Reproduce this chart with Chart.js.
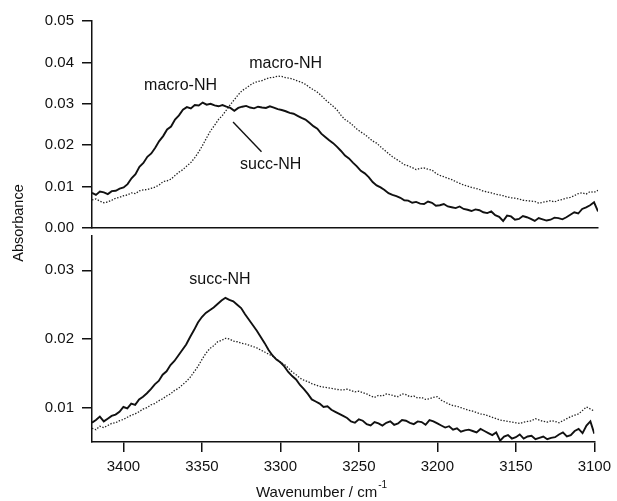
<!DOCTYPE html>
<html><head><meta charset="utf-8">
<script src="https://cdn.jsdelivr.net/npm/chart.js@4.4.1/dist/chart.umd.min.js"></script>
<style>
html,body{margin:0;padding:0;background:#fff;}
#wrap{position:relative;width:617px;height:501px;}
canvas{position:absolute;left:0;top:0;}
</style></head><body>
<div id="wrap"><canvas id="topChart" width="617" height="501"></canvas><canvas id="botChart" width="617" height="501"></canvas></div>
<script>
// ---- data (wavenumber in cm-1, absorbance) ----
const wavenumbers = [
3420,3417.5,3415,3412.5,3410,3407.5,3405,3402.5,3400,3397.5,
3395,3392.5,3390,3387.5,3385,3382.5,3380,3377.5,3375,3372.5,
3370,3367.5,3365,3362.5,3360,3357.5,3355,3352.5,3350,3347.5,
3345,3342.5,3340,3337.5,3335,3332.5,3330,3327.5,3325,3322.5,
3320,3317.5,3315,3312.5,3310,3307.5,3305,3302.5,3300,3297.5,
3295,3292.5,3290,3287.5,3285,3282.5,3280,3277.5,3275,3272.5,
3270,3267.5,3265,3262.5,3260,3257.5,3255,3252.5,3250,3247.5,
3245,3242.5,3240,3237.5,3235,3232.5,3230,3227.5,3225,3222.5,
3220,3217.5,3215,3212.5,3210,3207.5,3205,3202.5,3200,3197.5,
3195,3192.5,3190,3187.5,3185,3182.5,3180,3177.5,3175,3172.5,
3170,3167.5,3165,3162.5,3160,3157.5,3155,3152.5,3150,3147.5,
3145,3142.5,3140,3137.5,3135,3132.5,3130,3127.5,3125,3122.5,
3120,3117.5,3115,3112.5,3110,3107.5,3105,3102.5,3100];

const topSolid = [
0.0085,0.0080,0.0088,0.0086,0.0082,0.0089,0.0090,0.0095,0.0098,0.0106,
0.0120,0.0130,0.0148,0.0157,0.0172,0.0180,0.0194,0.0210,0.0222,0.0238,
0.0245,0.0262,0.0272,0.0286,0.0292,0.0289,0.0297,0.0296,0.0303,0.0298,
0.0300,0.0296,0.0294,0.0297,0.0293,0.0290,0.0283,0.0290,0.0293,0.0295,
0.0291,0.0289,0.0293,0.0291,0.0290,0.0294,0.0291,0.0287,0.0285,0.0282,
0.0278,0.0276,0.0271,0.0266,0.0262,0.0254,0.0246,0.0240,0.0228,0.0220,
0.0212,0.0205,0.0196,0.0186,0.0175,0.0168,0.0158,0.0149,0.0138,0.0132,
0.0123,0.0111,0.0103,0.0098,0.0092,0.0084,0.0080,0.0077,0.0073,0.0067,
0.0066,0.0061,0.0063,0.0059,0.0058,0.0064,0.0061,0.0054,0.0055,0.0058,
0.0052,0.0050,0.0048,0.0052,0.0046,0.0044,0.0041,0.0045,0.0043,0.0038,
0.0036,0.0040,0.0031,0.0027,0.0017,0.0030,0.0028,0.0020,0.0022,0.0029,
0.0026,0.0022,0.0017,0.0024,0.0021,0.0018,0.0020,0.0025,0.0024,0.0021,
0.0026,0.0032,0.0038,0.0035,0.0046,0.0050,0.0055,0.0062,0.0040];

const topDotted = [
0.0068,0.0070,0.0065,0.0061,0.0063,0.0067,0.0072,0.0074,0.0078,0.0080,
0.0085,0.0083,0.0090,0.0092,0.0093,0.0096,0.0099,0.0104,0.0112,0.0114,
0.0118,0.0127,0.0135,0.0141,0.0150,0.0158,0.0170,0.0184,0.0200,0.0218,
0.0235,0.0248,0.0262,0.0272,0.0285,0.0298,0.0310,0.0322,0.0332,0.0338,
0.0345,0.0351,0.0354,0.0356,0.0360,0.0363,0.0364,0.0367,0.0366,0.0363,
0.0362,0.0359,0.0355,0.0352,0.0347,0.0340,0.0334,0.0328,0.0320,0.0310,
0.0302,0.0294,0.0285,0.0272,0.0262,0.0256,0.0248,0.0239,0.0232,0.0226,
0.0218,0.0210,0.0205,0.0196,0.0188,0.0180,0.0172,0.0166,0.0160,0.0153,
0.0150,0.0146,0.0141,0.0144,0.0145,0.0142,0.0140,0.0132,0.0127,0.0124,
0.0120,0.0117,0.0112,0.0108,0.0104,0.0101,0.0098,0.0096,0.0093,0.0089,
0.0087,0.0085,0.0082,0.0080,0.0078,0.0075,0.0073,0.0072,0.0070,0.0067,
0.0066,0.0065,0.0064,0.0060,0.0062,0.0064,0.0066,0.0063,0.0067,0.0069,
0.0072,0.0074,0.0078,0.0083,0.0085,0.0082,0.0088,0.0086,0.0091];

const botSolid = [
0.0078,0.0082,0.0087,0.0080,0.0084,0.0088,0.0090,0.0094,0.0101,0.0099,
0.0106,0.0104,0.0112,0.0116,0.0121,0.0127,0.0134,0.0139,0.0148,0.0153,
0.0162,0.0168,0.0176,0.0184,0.0192,0.0203,0.0213,0.0224,0.0232,0.0238,
0.0242,0.0246,0.0251,0.0256,0.0260,0.0257,0.0255,0.0250,0.0245,0.0236,
0.0228,0.0220,0.0212,0.0203,0.0194,0.0184,0.0176,0.0170,0.0166,0.0160,
0.0152,0.0146,0.0141,0.0133,0.0127,0.0120,0.0112,0.0109,0.0106,0.0101,
0.0102,0.0097,0.0094,0.0091,0.0088,0.0085,0.0080,0.0078,0.0083,0.0081,
0.0076,0.0074,0.0079,0.0077,0.0074,0.0078,0.0080,0.0075,0.0077,0.0082,
0.0081,0.0078,0.0076,0.0080,0.0079,0.0075,0.0082,0.0080,0.0077,0.0074,
0.0071,0.0073,0.0068,0.0070,0.0065,0.0067,0.0068,0.0066,0.0064,0.0069,
0.0066,0.0063,0.0060,0.0064,0.0052,0.0058,0.0060,0.0055,0.0057,0.0061,
0.0055,0.0058,0.0059,0.0054,0.0056,0.0058,0.0054,0.0056,0.0057,0.0061,
0.0064,0.0058,0.0060,0.0066,0.0069,0.0063,0.0074,0.0080,0.0062];

const botDotted = [
0.0070,0.0068,0.0073,0.0071,0.0074,0.0077,0.0078,0.0081,0.0083,0.0086,
0.0089,0.0091,0.0094,0.0098,0.0100,0.0104,0.0106,0.0110,0.0113,0.0117,
0.0120,0.0125,0.0128,0.0133,0.0138,0.0144,0.0152,0.0160,0.0170,0.0179,
0.0186,0.0190,0.0196,0.0198,0.0201,0.0200,0.0197,0.0196,0.0194,0.0193,
0.0191,0.0189,0.0187,0.0184,0.0181,0.0178,0.0175,0.0171,0.0166,0.0163,
0.0158,0.0152,0.0148,0.0143,0.0140,0.0138,0.0135,0.0133,0.0131,0.0130,
0.0129,0.0128,0.0127,0.0126,0.0126,0.0127,0.0125,0.0123,0.0124,0.0122,
0.0120,0.0117,0.0115,0.0118,0.0117,0.0120,0.0119,0.0117,0.0116,0.0120,
0.0119,0.0116,0.0117,0.0114,0.0115,0.0112,0.0113,0.0115,0.0116,0.0111,
0.0108,0.0105,0.0103,0.0102,0.0100,0.0098,0.0096,0.0095,0.0093,0.0091,
0.0090,0.0088,0.0086,0.0084,0.0082,0.0081,0.0080,0.0079,0.0078,0.0077,
0.0079,0.0080,0.0081,0.0084,0.0082,0.0080,0.0079,0.0081,0.0080,0.0078,
0.0081,0.0084,0.0087,0.0089,0.0091,0.0096,0.0101,0.0098,0.0095];

const xTickValues = [3400,3350,3300,3250,3200,3150,3100];
const topYTicks = [0.00,0.01,0.02,0.03,0.04,0.05];
const botYTicks = [0.01,0.02,0.03];

const topLabels = [
  {text:'macro-NH', w:3364, a:0.0345},
  {text:'macro-NH', w:3297.5, a:0.0397},
  {text:'succ-NH', w:3307, a:0.0152}
];
const topLeader = [{w1:3330.8, a1:0.0256, w2:3312.8, a2:0.0184}];
const botLabels = [{text:'succ-NH', w:3338.5, a:0.0287}];

// ---- helpers ----
const FONT = '"Liberation Sans", Arial, Helvetica, sans-serif';
const INK = '#111';
const pts = arr => wavenumbers.map((w,i)=>({x:w, y:arr[i]}));

const annotPlugin = {
  id:'annot',
  afterDatasetsDraw(chart, args, opts){
    const {ctx} = chart; const x = chart.scales.x, y = chart.scales.y;
    ctx.save();
    ctx.fillStyle = INK; ctx.textAlign='center'; ctx.textBaseline='middle';
    ctx.font = '16px ' + FONT;
    (opts.labels||[]).forEach(l=>ctx.fillText(l.text, x.getPixelForValue(l.w), y.getPixelForValue(l.a)));
    ctx.strokeStyle = INK; ctx.lineWidth = 1.4;
    (opts.lines||[]).forEach(l=>{
      ctx.beginPath();
      ctx.moveTo(x.getPixelForValue(l.w1), y.getPixelForValue(l.a1));
      ctx.lineTo(x.getPixelForValue(l.w2), y.getPixelForValue(l.a2));
      ctx.stroke();
    });
    if (opts.xTitle){
      ctx.save();
      ctx.font = '15px ' + FONT;
      ctx.textAlign = 'left'; ctx.textBaseline = 'alphabetic';
      const main = opts.xTitle[0], sup = opts.xTitle[1];
      const wMain = ctx.measureText(main).width;
      ctx.font = '10px ' + FONT;
      const wSup = ctx.measureText(sup).width;
      const x0 = 321 - (wMain + wSup)/2;
      ctx.font = '15px ' + FONT;
      ctx.fillText(main, x0, 497);
      ctx.font = '10px ' + FONT;
      ctx.fillText(sup, x0 + wMain + 1, 488);
      ctx.restore();
    }
    if (opts.yTitle){
      ctx.translate(18.5, 223);
      ctx.rotate(-Math.PI/2);
      ctx.font = '14.5px ' + FONT;
      ctx.fillText(opts.yTitle, 0, 0);
    }
    ctx.restore();
  }
};

function solidDs(arr){ return {data:pts(arr), borderColor:INK, borderWidth:1.9, pointRadius:0, tension:0, fill:false}; }
function dotDs(arr){ return {data:pts(arr), borderColor:'#222', borderWidth:1.3, borderDash:[1.4,1.6], pointRadius:0, tension:0, fill:false}; }

function xScale(showTicks){
  return {
    type:'linear', reverse:true, min:3100, max:3420,
    afterBuildTicks: s => { s.ticks = xTickValues.map(v=>({value:v})); },
    afterFit: s => { s.height = showTicks ? 59 : 0; },
    border:{display:true, color:INK, width:1.5},
    grid:{display:showTicks, drawOnChartArea:false, drawTicks:showTicks, tickLength:10, color:INK, tickColor:INK, lineWidth:1.5},
    ticks:{display:showTicks, color:INK, padding:6, maxRotation:0, font:{family:FONT, size:15}, callback:v=>String(v)},
    title:{display:false}
  };
}
function yScale(min,max,ticks){
  return {
    type:'linear', min, max,
    afterBuildTicks: s => { s.ticks = ticks.map(v=>({value:v})); },
    afterFit: s => { s.width = 92; },
    border:{display:true, color:INK, width:1.5},
    grid:{display:true, drawOnChartArea:false, drawTicks:true, tickLength:10, color:INK, tickColor:INK, lineWidth:1.5},
    ticks:{color:INK, padding:8, font:{family:FONT, size:15}, callback:v=>Number(v).toFixed(2)}
  };
}

new Chart(document.getElementById('topChart'), {
  type:'line',
  data:{datasets:[solidDs(topSolid), dotDs(topDotted)]},
  options:{
    responsive:false, devicePixelRatio:1, animation:false,
    layout:{padding:{left:0,right:19,top:21,bottom:273}},
    plugins:{legend:{display:false}, tooltip:{enabled:false}, annot:{labels:topLabels, lines:topLeader}},
    scales:{x:xScale(false), y:yScale(0,0.05,topYTicks)}
  },
  plugins:[annotPlugin]
});

new Chart(document.getElementById('botChart'), {
  type:'line',
  data:{datasets:[solidDs(botSolid), dotDs(botDotted)]},
  options:{
    responsive:false, devicePixelRatio:1, animation:false,
    layout:{padding:{left:0,right:19,top:236,bottom:0}},
    plugins:{legend:{display:false}, tooltip:{enabled:false}, annot:{labels:botLabels, yTitle:'Absorbance', xTitle:['Wavenumber / cm','-1']}},
    scales:{x:xScale(true), y:yScale(0.005,0.035,botYTicks)}
  },
  plugins:[annotPlugin]
});
</script>
</body></html>
